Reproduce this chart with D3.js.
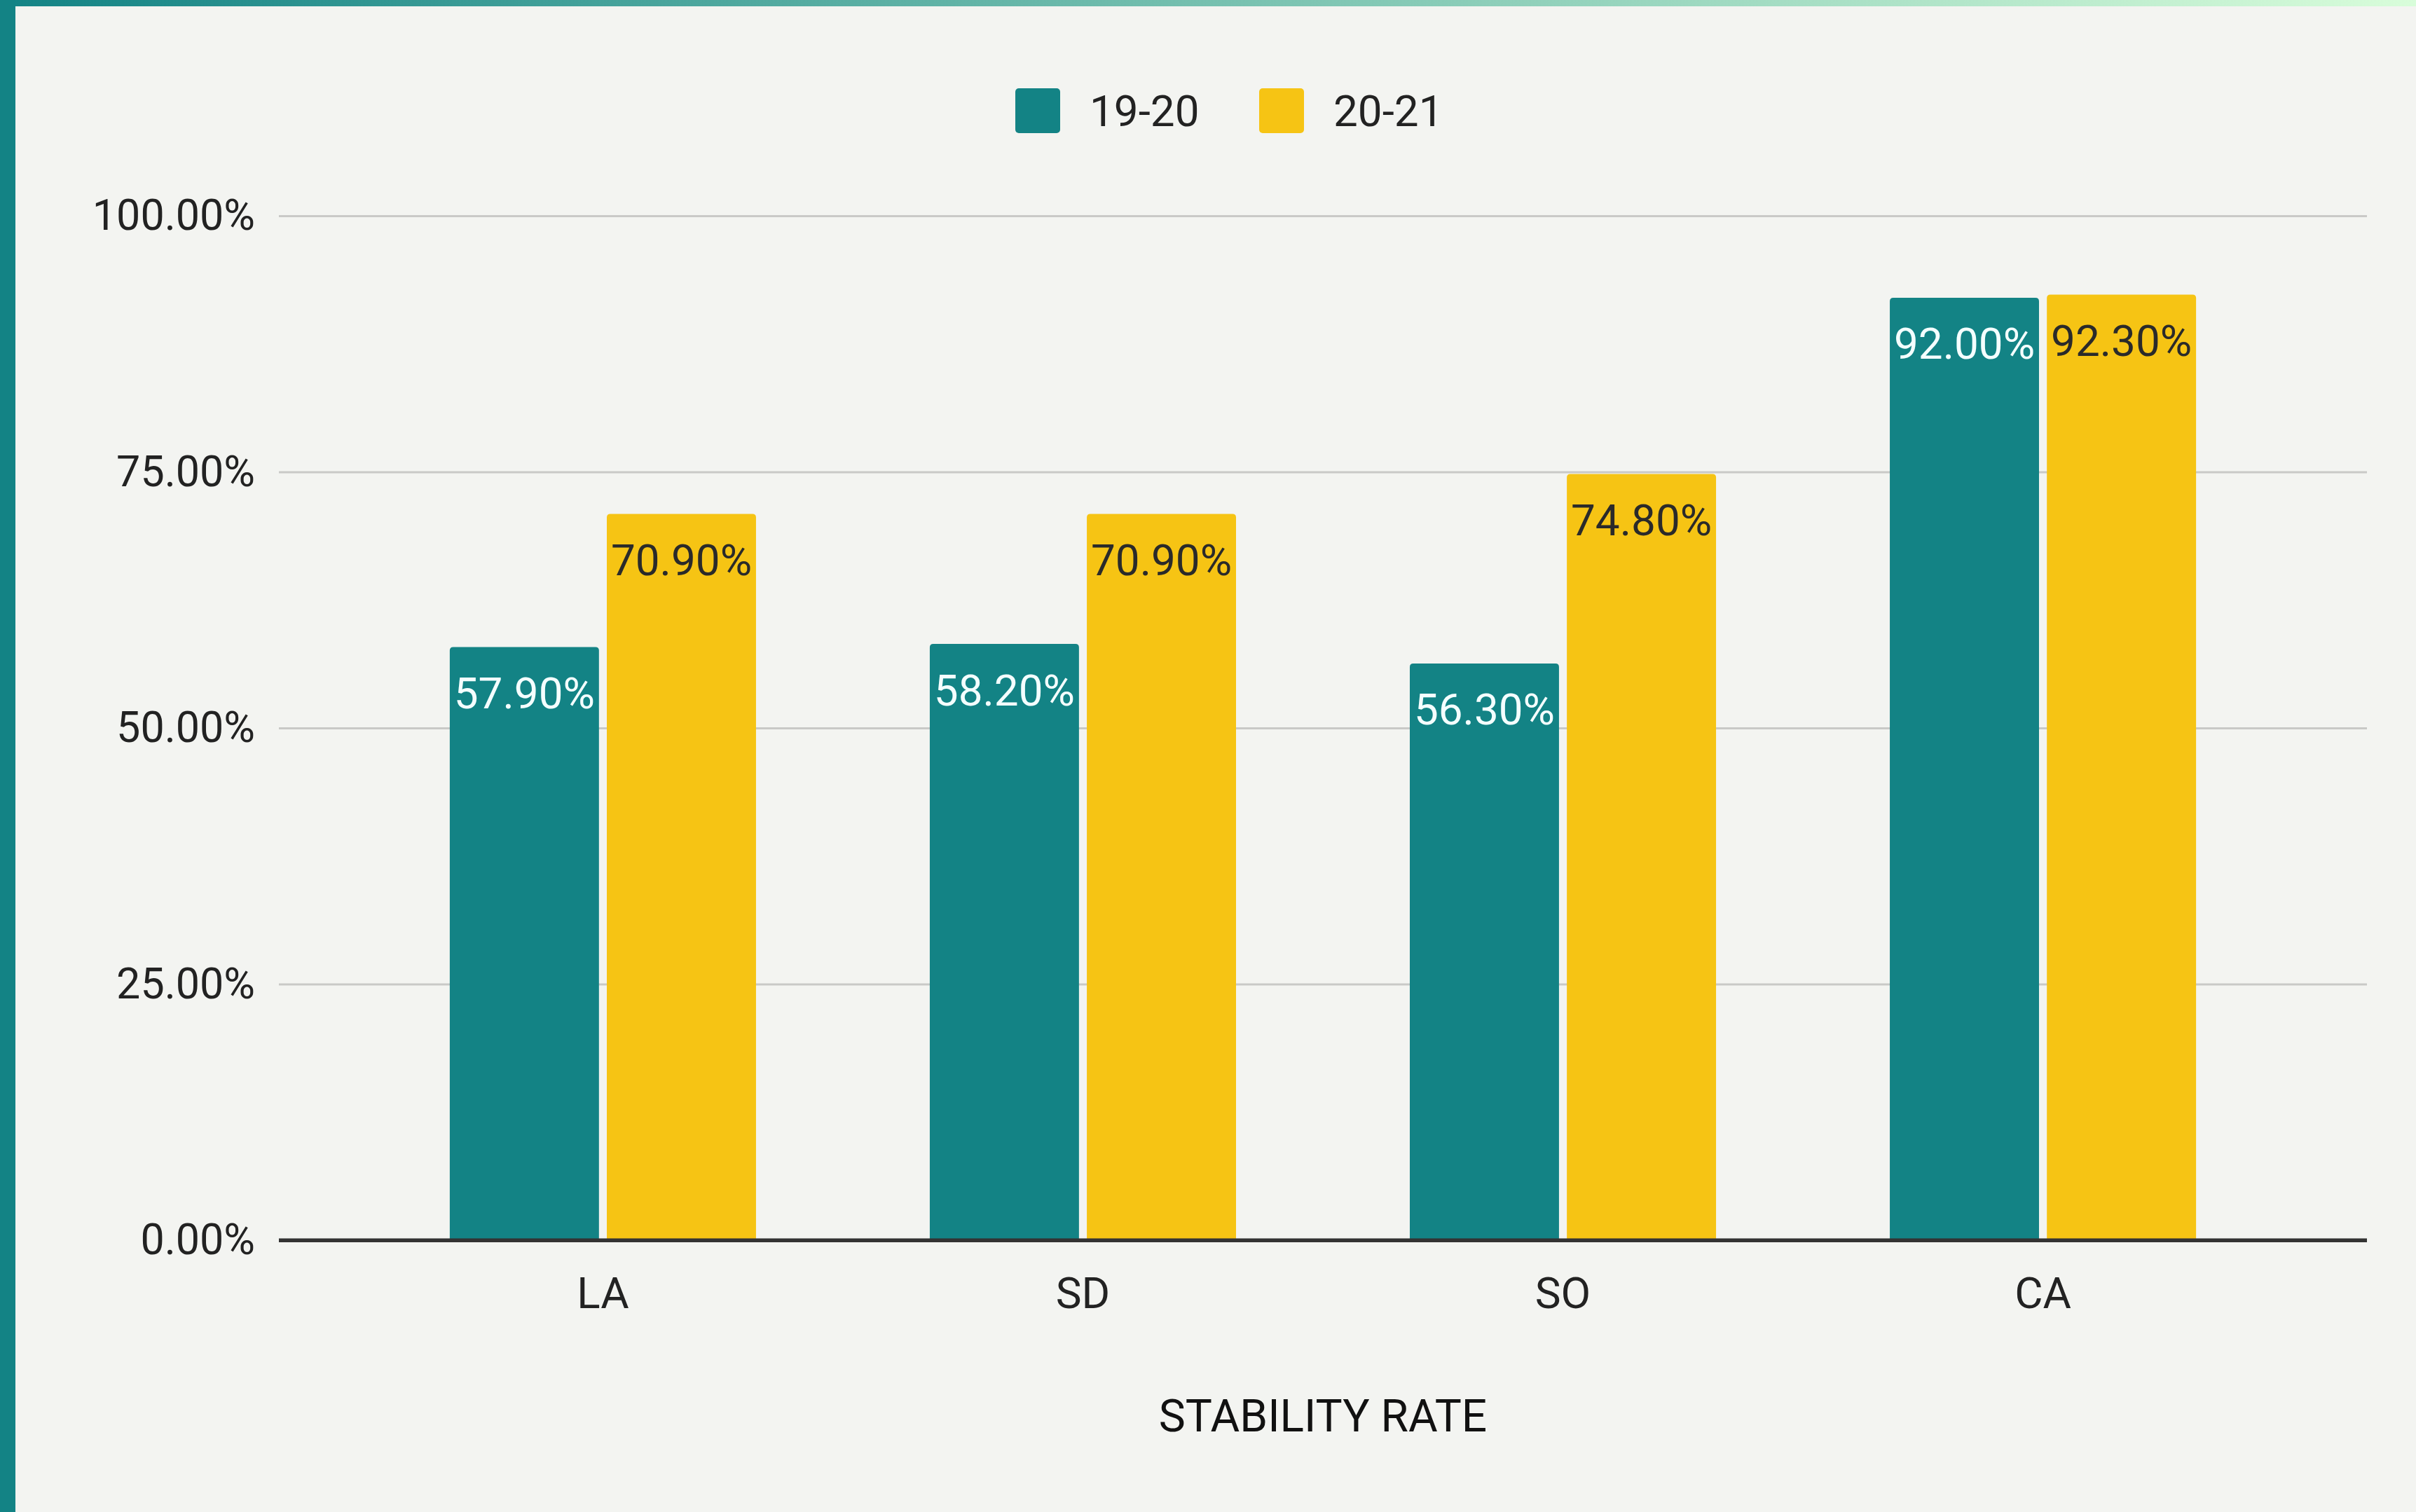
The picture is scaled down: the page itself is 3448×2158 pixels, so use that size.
<!DOCTYPE html>
<html>
<head>
<meta charset="utf-8">
<script src="https://cdn.jsdelivr.net/npm/d3@7"></script>
<style>
  body { margin: 0; background: #f3f4f1; }
  svg { display: block; font-family: Roboto, "Noto Sans", sans-serif; }
</style>
</head>
<body>
<div id="chart"></div>
<script>
// chart values
const categories = ['LA', 'SD', 'SO', 'CA'];
const seriesNames = ['19-20', '20-21'];
const values1920 = [57.9, 58.2, 56.3, 92.0];
const values2021 = [70.9, 70.9, 74.8, 92.3];
const yTicks = [0, 25, 50, 75, 100];
const axisTitle = 'STABILITY RATE';

const seriesColors = ['#138385', '#f6c414'];
const labelColors = ['#f4ffff', '#2a2a2a'];

const width = 3448, height = 2158;
const plotLeft = 398, plotRight = 3378, plotTop = 308, plotBottom = 1770;

const svg = d3.select('#chart').append('svg')
  .attr('width', width)
  .attr('height', height);

// frame: gradient strip on top, solid strip on the left
const defs = svg.append('defs');
const grad = defs.append('linearGradient').attr('id', 'topGrad')
  .attr('x1', '0%').attr('x2', '100%').attr('y1', '0%').attr('y2', '0%');
grad.append('stop').attr('offset', '0%').attr('stop-color', '#138385');
grad.append('stop').attr('offset', '100%').attr('stop-color', '#d8fdda');

svg.append('rect').attr('width', width).attr('height', height).attr('fill', '#f3f4f1');
svg.append('rect').attr('x', 0).attr('y', 0).attr('width', width).attr('height', 9).attr('fill', 'url(#topGrad)');
svg.append('rect').attr('x', 0).attr('y', 0).attr('width', 22).attr('height', height).attr('fill', '#138385');

const y = d3.scaleLinear().domain([0, 100]).range([plotBottom, plotTop]);

const x0 = d3.scaleBand()
  .domain(categories)
  .range([plotLeft, plotRight])
  .paddingInner(0.362)
  .paddingOuter(0.356);

const x1 = d3.scaleBand()
  .domain(seriesNames)
  .range([0, x0.bandwidth()])
  .paddingInner(0.05);

// gridlines + y labels
const yAxis = d3.axisLeft(y)
  .tickValues(yTicks)
  .tickSize(-(plotRight - plotLeft))
  .tickPadding(34)
  .tickFormat(d => d.toFixed(2) + '%');

const gy = svg.append('g')
  .attr('transform', `translate(${plotLeft},0)`)
  .call(yAxis);
gy.select('.domain').remove();
gy.selectAll('.tick line')
  .attr('stroke', d => d === 0 ? '#333333' : '#c9c9c7')
  .attr('stroke-width', d => d === 0 ? 5 : 3);
gy.selectAll('.tick text')
  .attr('fill', '#222')
  .style('font-size', '61px')
  .style('font-family', 'Roboto, sans-serif');

const rows = categories.map((c, i) => ({
  cat: c,
  vals: [values1920[i], values2021[i]]
}));

const groups = svg.append('g').selectAll('g')
  .data(rows)
  .join('g')
  .attr('transform', d => `translate(${x0(d.cat)},0)`);

groups.selectAll('path.bar')
  .data(d => d.vals.map((v, k) => ({ v, k })))
  .join('path')
  .attr('class', 'bar')
  .attr('fill', d => seriesColors[d.k])
  .attr('d', d => {
    const bx = x1(seriesNames[d.k]);
    const bw = x1.bandwidth();
    const top = y(d.v), bot = y(0);
    const r = 5;
    return `M${bx},${bot}V${top + r}Q${bx},${top} ${bx + r},${top}H${bx + bw - r}Q${bx + bw},${top} ${bx + bw},${top + r}V${bot}Z`;
  });

// redraw the baseline over the bars
svg.append('line')
  .attr('x1', plotLeft).attr('x2', plotRight)
  .attr('y1', y(0)).attr('y2', y(0))
  .attr('stroke', '#333333').attr('stroke-width', 5);

groups.selectAll('text.val')
  .data(d => d.vals.map((v, k) => ({ v, k })))
  .join('text')
  .attr('class', 'val')
  .attr('x', d => x1(seriesNames[d.k]) + x1.bandwidth() / 2)
  .attr('y', d => y(d.v) + 66)
  .attr('text-anchor', 'middle')
  .attr('dominant-baseline', 'central')
  .attr('fill', d => labelColors[d.k])
  .style('font-size', '62px')
  .text(d => d.v.toFixed(2) + '%');

// category labels
svg.append('g').selectAll('text')
  .data(categories)
  .join('text')
  .attr('x', d => x0(d) + x0.bandwidth() / 2)
  .attr('y', 1845)
  .attr('text-anchor', 'middle')
  .attr('dominant-baseline', 'central')
  .attr('fill', '#222')
  .style('font-size', '62px')
  .text(d => d);

svg.append('text')
  .attr('x', 1888)
  .attr('y', 2021)
  .attr('text-anchor', 'middle')
  .attr('dominant-baseline', 'central')
  .attr('fill', '#111')
  .style('font-size', '64px')
  .text(axisTitle);

// legend
const legendX = [1449, 1797];
const legend = svg.append('g').selectAll('g')
  .data(seriesNames)
  .join('g')
  .attr('transform', (d, i) => `translate(${legendX[i]},126)`);
legend.append('rect')
  .attr('width', 64).attr('height', 64)
  .attr('rx', 5)
  .attr('fill', (d, i) => seriesColors[i]);
legend.append('text')
  .attr('x', 106)
  .attr('y', 32)
  .attr('dominant-baseline', 'central')
  .attr('fill', '#222')
  .style('font-size', '62px')
  .text(d => d);
</script>
</body>
</html>
